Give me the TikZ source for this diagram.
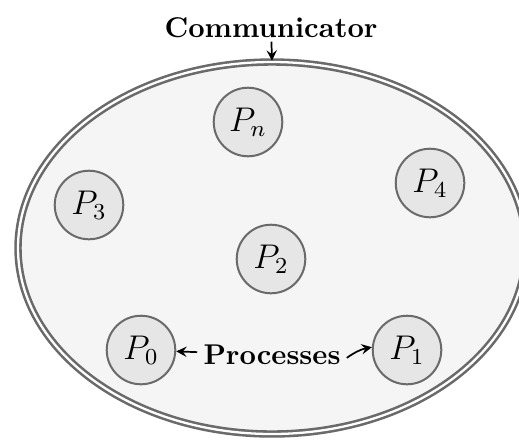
\documentclass[tikz,border=0pt]{standalone}
\usetikzlibrary{arrows,positioning}
\usetikzlibrary{shapes.geometric}
\definecolor{commfill}{HTML}{F5F5F5}
\definecolor{procfill}{HTML}{E6E6E6}
\definecolor{edgegray}{HTML}{6A6A6A}
\tikzstyle{process} = [circle, draw=edgegray, fill=procfill, line width=0.7pt, minimum size=24pt, inner sep=0pt, font=\large]
\tikzstyle{pointer} = [->, >=stealth, line width=0.6pt]

\begin{document}
\begin{tikzpicture}[x=0.35pt,y=0.35pt]
        \useasboundingbox (0,0) rectangle (519,439);
        \node[ellipse, draw=edgegray, fill=commfill, double, double distance=0.8pt, line width=0.9pt, minimum width=177.8pt, minimum height=130.2pt, inner sep=0pt] (comm) at (272,191) {};
        \node[font=\bfseries, inner sep=1pt] (commlabel) at (271,411) {Communicator};
        \draw[pointer] (commlabel) -- (comm.north);

        \node[process] (pn) at (248,317) {$P_n$};
        \node[process] (p4) at (430,256) {$P_4$};
        \node[process] (p3) at (89,234) {$P_3$};
        \node[process] (p2) at (271,180) {$P_2$};
        \node[process] (p0) at (141,89) {$P_0$};
        \node[process] (p1) at (407,89) {$P_1$};

        \node[font=\bfseries, inner sep=2pt] (proclabel) at (272,84) {Processes};
        \draw[pointer] (proclabel) -- (p0);
        \draw[pointer] ([yshift=-1pt]proclabel.east) to[bend left=12] (p1);

    \end{tikzpicture}
\end{document}
